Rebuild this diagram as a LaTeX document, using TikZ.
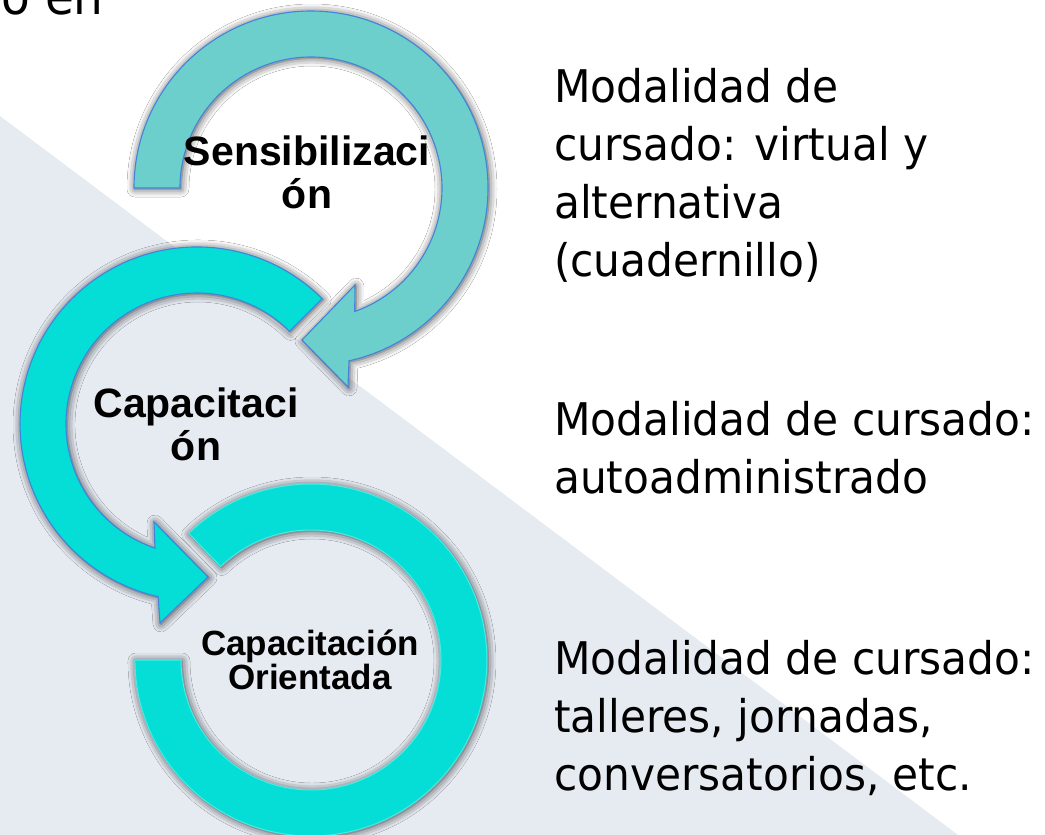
\documentclass[tikz,border=0pt]{standalone}
\usepackage{fontspec}
\setmainfont{DejaVu Sans}
\newfontfamily\labelfont{Liberation Sans}
\newfontfamily\descfont[FakeStretch=0.94]{DejaVu Sans}
\usetikzlibrary{shadows.blur}
\definecolor{bgpanel}{RGB}{230,235,242}
\definecolor{tealA}{RGB}{108,207,203}
\definecolor{cyanB}{RGB}{4,222,214}
\definecolor{ringline}{RGB}{66,132,218}
\definecolor{rimlight}{RGB}{70,236,230}
\tikzset{
  softshadow/.style={blur shadow={shadow xshift=1pt, shadow yshift=-1pt, shadow blur radius=8pt, shadow opacity=75}},
  ringA/.style={fill=tealA, draw=ringline, line width=1.1pt, softshadow},
  ringB/.style={fill=cyanB, draw=ringline, line width=1.1pt, softshadow},
  ringC/.style={fill=cyanB, draw=rimlight, line width=1pt, softshadow},
  lblbig/.style={font={\labelfont\bfseries\fontsize{41}{43}\selectfont}, align=center, inner sep=0pt, anchor=base},
  lblsmall/.style={font={\labelfont\bfseries\fontsize{35}{34}\selectfont}, align=center, inner sep=0pt, anchor=base},
  desc/.style={font={\descfont\fontsize{45}{58}\selectfont}, align=left, inner sep=0pt, anchor=base west},
}
\begin{document}
\begin{tikzpicture}[x=1pt,y=-1pt]
\useasboundingbox (0,0) rectangle (1045,835);
\fill[white] (0,0) rectangle (1045,835);
\fill[bgpanel] (0,116) -- (958,835) -- (0,835) -- cycle;
\node[font={\descfont\fontsize{50}{58}\selectfont}, inner sep=0pt, anchor=base east] (title) at (104,15) {o en};
% bottom ring
\path[ringC] (188.7,533.4) arc[start angle=226, end angle=540, radius=176] -- (181,660) arc[start angle=540, end angle=226, radius=130] -- cycle;
% middle arrow
\path[ringB] (322.2,298.8) arc[start angle=-45, end angle=-257.3, radius=177] -- (160,623) -- (208,577) -- (154,522) -- (155,548.1) arc[start angle=-251.3, end angle=-45, radius=131] -- cycle;
% top arrow
\path[ringA] (134,188) arc[start angle=180, end angle=437.6, radius=177] -- (348,387) -- (302,340) -- (355,285) -- (354.7,311.5) arc[start angle=430.5, end angle=180, radius=131] -- cycle;
\node[lblbig] (sens) at (307,208) {Sensibilizaci\\ón};
\node[lblbig] (capa) at (196,460) {Capacitaci\\ón};
\node[lblsmall] (orie) at (310,689) {Capacitación\\Orientada};
\node[desc] (d1) at (554,276) {Modalidad de\\cursado: virtual y\\alternativa\\(cuadernillo)};
\node[desc] (d2) at (554,493) {Modalidad de cursado:\\autoadministrado};
\node[desc] (d3) at (554,790) {Modalidad de cursado:\\talleres, jornadas,\\conversatorios, etc.};
\end{tikzpicture}
\end{document}
